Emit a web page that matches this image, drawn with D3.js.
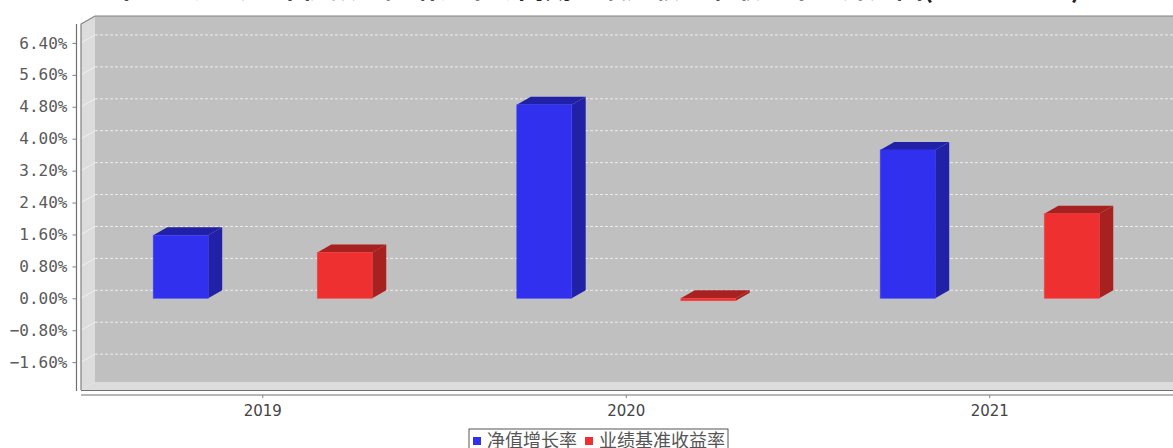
<!DOCTYPE html>
<html lang="zh">
<head>
<meta charset="UTF-8">
<title>净值增长率与业绩基准收益率对比</title>
<script src="https://d3js.org/d3.v7.min.js"></script>
<style>
    body { margin: 0; background: #fff; overflow: hidden; }
    svg { display: block; }
</style>
</head>
<body>
<svg id="chart" width="1173" height="448"></svg>
<script>
// data (percent)
const years = ["2019", "2020", "2021"];
const seriesNames = ["净值增长率", "业绩基准收益率"];
const navGrowth = [1.58, 4.85, 3.72];
const benchmark = [1.15, -0.06, 2.12];
const yTicks = [-1.6, -0.8, 0, 0.8, 1.6, 2.4, 3.2, 4.0, 4.8, 5.6, 6.4];

const frontColors = ["#3030ee", "#ee3030"];
const darkColors = ["#2121a8", "#a82121"];

const svg = d3.select("#chart");

// 3D plot geometry (front face + depth offset)
const plotLeft = 81, plotRight = 1171.5, plotTop = 24, plotBottom = 390;
const dx = 14, dy = 8;

const x = d3.scaleBand().domain(years).range([plotLeft, plotRight])
    .paddingInner(0.3).paddingOuter(0.15);
const xs = d3.scaleBand().domain(seriesNames).range([0, x.bandwidth()])
    .paddingInner(0.665).paddingOuter(0.108);
const y = d3.scaleLinear().domain([-2.298, 6.875]).range([plotBottom, plotTop]);

// title, mostly above the visible area (the reference crops it)
svg.append("text")
    .attr("x", 597).attr("y", -2.5)
    .attr("text-anchor", "middle")
    .attr("font-family", "'Noto Sans CJK SC', sans-serif")
    .attr("font-size", 27)
    .attr("font-weight", "bold")
    .attr("fill", "#222")
    .text("本基金过去三年份额净值增长率与同期业绩比较基准收益率的对比图(2019-2021)");

// back wall
svg.append("rect")
    .attr("x", plotLeft + dx).attr("y", plotTop - dy)
    .attr("width", plotRight - plotLeft + 20).attr("height", plotBottom - plotTop)
    .attr("fill", "#c0c0c0");

// left wall and floor
svg.append("polygon")
    .attr("points", [[plotLeft, plotTop], [plotLeft + dx, plotTop - dy], [plotLeft + dx, plotBottom - dy], [plotLeft, plotBottom]].join(" "))
    .attr("fill", "#dcdcdc");
svg.append("polygon")
    .attr("points", [[plotLeft, plotBottom], [plotLeft + dx, plotBottom - dy], [plotRight + dx + 20, plotBottom - dy], [plotRight + 20, plotBottom]].join(" "))
    .attr("fill", "#dcdcdc");

// gridlines on back wall + the left wall
yTicks.forEach(t => {
    svg.append("line")
        .attr("x1", plotLeft + dx).attr("x2", 1173)
        .attr("y1", y(t) - dy).attr("y2", y(t) - dy)
        .attr("stroke", "#ececec").attr("stroke-width", 1)
        .attr("stroke-dasharray", "3,2");
    svg.append("line")
        .attr("x1", plotLeft).attr("x2", plotLeft + dx)
        .attr("y1", y(t)).attr("y2", y(t) - dy)
        .attr("stroke", "#f4f4f4").attr("stroke-width", 0.8);
});

// outline of walls
svg.append("path")
    .attr("d", `M${plotLeft},${plotBottom}L${plotLeft},${plotTop}L${plotLeft + dx},${plotTop - dy}L1180,${plotTop - dy}`)
    .attr("fill", "none").attr("stroke", "#808080").attr("stroke-width", 1.2);
svg.append("line")
    .attr("x1", plotLeft).attr("x2", 1180).attr("y1", plotBottom + 0.5).attr("y2", plotBottom + 0.5)
    .attr("stroke", "#707070").attr("stroke-width", 1.2);

// bars
const series = [navGrowth, benchmark];
years.forEach((yr, i) => {
    seriesNames.forEach((s, j) => {
        const v = series[j][i];
        const bx = x(yr) + xs(s);
        const bw = xs.bandwidth();
        const yTop = y(Math.max(v, 0));
        const yBase = y(Math.min(v, 0));
        const g = svg.append("g");
        // side
        g.append("polygon")
            .attr("points", [[bx + bw, yTop], [bx + bw + dx, yTop - dy], [bx + bw + dx, yBase - dy], [bx + bw, yBase]].join(" "))
            .attr("fill", darkColors[j]);
        // top
        g.append("polygon")
            .attr("points", [[bx, yTop], [bx + dx, yTop - dy], [bx + bw + dx, yTop - dy], [bx + bw, yTop]].join(" "))
            .attr("fill", darkColors[j]);
        // front
        g.append("rect")
            .attr("x", bx).attr("y", yTop)
            .attr("width", bw).attr("height", Math.max(yBase - yTop, 1))
            .attr("fill", frontColors[j])
            .attr("stroke", d3.color(frontColors[j]).brighter(0.6))
            .attr("stroke-opacity", 0.6).attr("stroke-width", 0.8);
    });
});

// y axis
const yAxisX = 76.5;
svg.append("line")
    .attr("x1", yAxisX).attr("x2", yAxisX).attr("y1", plotTop).attr("y2", plotBottom + 1)
    .attr("stroke", "#707070").attr("stroke-width", 1.2);
const yAxis = svg.append("g").attr("transform", `translate(${yAxisX},0)`)
    .call(d3.axisLeft(y).tickValues(yTicks).tickSize(4).tickPadding(5)
        .tickFormat(d => (d < 0 ? "−" : "") + Math.abs(d).toFixed(2) + "%"));
yAxis.select(".domain").remove();
yAxis.selectAll("line").attr("stroke", "#808080");
yAxis.selectAll("text")
    .attr("font-family", "'DejaVu Sans Mono', monospace")
    .attr("font-size", 16)
    .attr("fill", "#5a5a5a");

// x axis
const xAxisY = 395;
svg.append("line")
    .attr("x1", plotLeft).attr("x2", 1180).attr("y1", xAxisY).attr("y2", xAxisY)
    .attr("stroke", "#707070").attr("stroke-width", 1.2);
const xAxis = svg.append("g").attr("transform", `translate(0,${xAxisY})`)
    .call(d3.axisBottom(x).tickSize(3).tickPadding(7));
xAxis.select(".domain").remove();
xAxis.selectAll("line").attr("stroke", "#808080");
xAxis.selectAll("text")
    .attr("font-family", "'DejaVu Sans', sans-serif")
    .attr("font-size", 15)
    .attr("fill", "#444");

// legend
const legend = svg.append("g").attr("transform", "translate(469,429)");
legend.append("rect")
    .attr("x", 0).attr("y", 0).attr("width", 259).attr("height", 30)
    .attr("fill", "#fff").attr("stroke", "#555").attr("stroke-width", 1);
const legendX = [4, 116];
seriesNames.forEach((s, j) => {
    legend.append("rect")
        .attr("x", legendX[j]).attr("y", 8).attr("width", 8).attr("height", 8)
        .attr("fill", frontColors[j]);
    legend.append("text")
        .attr("x", legendX[j] + 14).attr("y", 18)
        .attr("font-family", "'Noto Sans CJK SC', sans-serif")
        .attr("font-size", 18)
        .attr("fill", "#555")
        .text(s);
});
</script>
</body>
</html>
